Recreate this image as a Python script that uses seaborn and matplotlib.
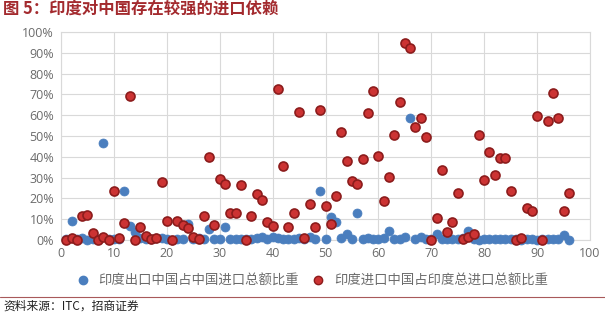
import matplotlib
matplotlib.use("Agg")
import matplotlib.pyplot as plt
import seaborn as sns
import pandas as pd
import numpy as np
from matplotlib.lines import Line2D

# ---- data ----
idx = list(range(1, 97))
export_share = [0.3, 9, 0.5, 1.2, 0.2, 0.5, 0.3, 46.8, 0.3, 0.5,
                0.4, 23.6, 6.5, 3.9, 0.8, 0.5, 0.3, 0.8, 1.0, 0.3,
                0.2, 0.6, 0.3, 7.8, 0.5, 1.2, 0.5, 5.3, 0.3, 0.3,
                6.3, 0.5, 0.5, 0.3, 0.5, 0.6, 0.8, 1.3, 0.6, 1.4,
                0.8, 0.5, 0.3, 0.5, 0.8, 0.5, 1.6, 0.3, 23.7, 0.3,
                11.2, 8.8, 0.8, 2.8, 0.3, 12.8, 0.3, 0.8, 0.3, 0.6,
                1.1, 4.2, 0.6, 0.3, 1.3, 58.5, 0.3, 1.6, 0.3, 0.3,
                2.7, 0.6, 0.3, 0.3, 0.6, 1.0, 4.4, 0.6, 0.1, 0.3,
                0.4, 0.3, 0.5, 0.3, 0.4, 0.3, 0.2, 0.4, 0.3, 0.2,
                0.4, 0.3, 0.5, 0.3, 2.4, 0.2]
import_share = [0, 1, 0, 11.5, 12, 3.2, 0, 1.3, 0, 23.6,
                1, 8.2, 69, 0, 6.1, 1.8, 0.5, 1, 28, 9,
                0, 9, 7.2, 5.6, 1.3, 0.5, 11.7, 40, 7.2, 29.2,
                27, 13, 12.8, 26.6, 0, 11.7, 22, 19.2, 8.7, 6.6,
                72.6, 35.4, 6.3, 12.8, 61.5, 1, 17.3, 6.4, 62.6, 16.3,
                7.8, 21.3, 51.8, 38.1, 28.4, 26.8, 38.8, 60.9, 71.5, 40.4,
                18.9, 30.3, 50.3, 66.3, 94.6, 92.5, 54.2, 58.7, 49.7, 0,
                10.7, 33.8, 3.8, 8.8, 22.6, 0.5, 1.4, 2.9, 50.3, 28.8,
                42.3, 31.1, 39.3, 39.3, 23.7, 0, 1.2, 15.2, 13.8, 59.6,
                0, 57.1, 70.7, 58.7, 13.8, 22.6]
series_names = ["印度出口中国占中国进口总额比重", "印度进口中国占印度总进口总额比重"]
x_ticks = [0, 10, 20, 30, 40, 50, 60, 70, 80, 90, 100]
y_ticks = [0, 10, 20, 30, 40, 50, 60, 70, 80, 90, 100]
title_text = "图 5：印度对中国存在较强的进口依赖"
source_text = "资料来源：ITC，招商证券"

df = pd.DataFrame({
    "x": idx * 2,
    "y": export_share + import_share,
    "series": [series_names[0]] * len(idx) + [series_names[1]] * len(idx),
})

sns.set_theme(style="white")
plt.rcParams["font.family"] = ["Noto Sans CJK SC", "DejaVu Sans"]

blue = "#4A7EBE"
red_fill = "#CC3333"
red_edge = "#8C1C1C"

fig = plt.figure(figsize=(6.05, 3.16), dpi=100)
ax = fig.add_axes([61/605, 1-240/316, (590-61)/605, (240-32)/316])

sns.scatterplot(data=df[df.series == series_names[0]], x="x", y="y", ax=ax,
                color=blue, s=42, edgecolor=blue, linewidth=0.5, legend=False,
                clip_on=False, zorder=3)
sns.scatterplot(data=df[df.series == series_names[1]], x="x", y="y", ax=ax,
                color=red_fill, s=42, edgecolor=red_edge, linewidth=1.2, legend=False,
                clip_on=False, zorder=4)

ax.set_xlim(0, 100)
ax.set_ylim(0, 100)
ax.set_xticks(x_ticks)
ax.set_yticks(y_ticks)
ax.set_xticklabels([str(t) for t in x_ticks], fontsize=9, color="#6B6B6B",
                   family=["Open Sans", "DejaVu Sans"])
ax.set_yticklabels([f"{t}%" for t in y_ticks], fontsize=9, color="#6B6B6B",
                   family=["Open Sans", "DejaVu Sans"])
ax.tick_params(axis="both", length=0, pad=5)
ax.grid(True, color="#D9D9D9", linewidth=0.8)
ax.set_axisbelow(True)
for side in ["left", "right", "top", "bottom"]:
    ax.spines[side].set_color("#D9D9D9")
    ax.spines[side].set_linewidth(0.8)
ax.set_xlabel("")
ax.set_ylabel("")

handles = [
    Line2D([0], [0], marker="o", linestyle="", markerfacecolor=blue,
           markeredgecolor=blue, markersize=6),
    Line2D([0], [0], marker="o", linestyle="", markerfacecolor=red_fill,
           markeredgecolor=red_edge, markersize=6),
]
fig.legend(handles, series_names, loc="center", bbox_to_anchor=(0.51, 1-281/316),
           ncol=2, frameon=False, fontsize=9.6, handletextpad=0.2, columnspacing=0.4,
           labelcolor="#6B6B6B")

fig.text(0.005, 1-9/316, title_text, fontsize=11.8, fontweight="bold",
         color="#A32A2E", va="center", ha="left")
fig.add_artist(Line2D([0, 1], [1-297/316, 1-297/316], color="#A8595A",
                      linewidth=0.8, transform=fig.transFigure))
fig.text(0.005, 1-306/316, source_text, fontsize=8.5, color="#222222",
         va="center", ha="left")

fig.savefig("out.png", dpi=100)
